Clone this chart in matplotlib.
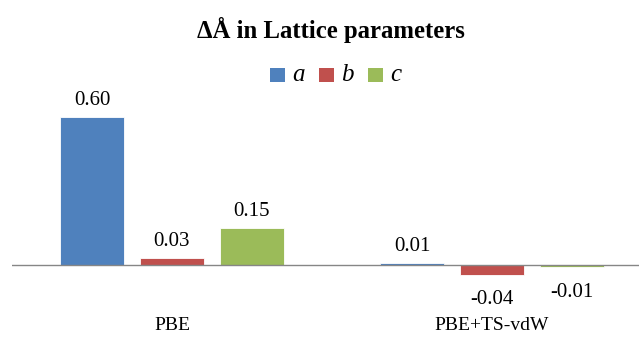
import matplotlib.pyplot as plt
import numpy as np
from matplotlib.patches import Rectangle

plt.rcParams['font.family'] = ['Liberation Serif', 'DejaVu Serif']

grupos = ["PBE", "PBE+TS-vdW"]
series = ["a", "b", "c"]
valores_a = [0.60, 0.01]
valores_b = [0.03, -0.04]
valores_c = [0.15, -0.01]
colores = ["#4F81BD", "#C0504D", "#9BBB59"]

fig = plt.figure(figsize=(6.39, 3.40), dpi=100)
# ejes: x de 12 a 652 px, y cero en 265 px
W, H = 639.0, 340.0
y0, y1 = -0.1, 0.7
esc = 246.7
abajo = 265 + (-y0) * esc
arriba = 265 - y1 * esc
ax = fig.add_axes([12 / W, (H - abajo) / H, 640 / W, (abajo - arriba) / H])

x = np.arange(len(grupos))
ancho = 0.2
desp = 0.25
for k, vals in enumerate([valores_a, valores_b, valores_c]):
    pos = x + (k - 1) * desp
    barras = ax.bar(pos, vals, ancho, color=colores[k], edgecolor="white", linewidth=0.6, zorder=2)
    for b, v in zip(barras, vals):
        if v >= 0:
            ax.annotate("%.2f" % v, (b.get_x() + b.get_width() / 2, v), xytext=(0, 5),
                        textcoords="offset points", ha="center", va="bottom", fontsize=15)
        else:
            ax.annotate("%.2f" % v, (b.get_x() + b.get_width() / 2, v), xytext=(0, -11),
                        textcoords="offset points", ha="center", va="top", fontsize=15)

ax.axhline(0, color="#868686", linewidth=1, zorder=3)
ax.set_xlim(-0.5, 1.5)
ax.set_ylim(y0, y1)
for s in ax.spines.values():
    s.set_visible(False)
ax.set_yticks([])
ax.set_xticks(x)
ax.set_xticklabels(grupos, fontsize=14)
ax.tick_params(axis="x", length=0, pad=20)

fig.text(331 / W, 1 - 30 / H, "ΔÅ in Lattice parameters", ha="center", va="center",
         fontsize=17.8, fontweight="bold")

# leyenda a mano: cuadrados y letras en cursiva
for k in range(len(series)):
    xc = 270 + k * 49
    fig.add_artist(Rectangle((xc / W, 1 - 82 / H), 15 / W, 14 / H, transform=fig.transFigure,
                             facecolor=colores[k], edgecolor="none"))
    fig.text((xc + 22) / W, 1 - 75 / H, series[k], ha="left", va="center",
             fontsize=18, style="italic")

fig.savefig("out.png", dpi=100)
